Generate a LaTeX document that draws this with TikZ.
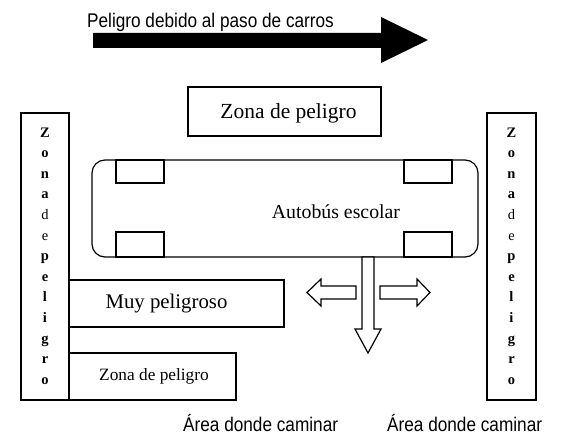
\documentclass[tikz,border=0pt]{standalone}
\usepackage{fontspec}
\setmainfont{Liberation Serif}
\setsansfont{Liberation Sans}
\newcommand{\vzonatext}{\textbf{Z}\\\textbf{o}\\\textbf{n}\\\textbf{a}\\d\\e\\\textbf{p}\\\textbf{e}\\\textbf{l}\\\textbf{i}\\\textbf{g}\\\textbf{r}\\\textbf{o}}
\newcommand{\tallsans}[1]{\scalebox{1}[1.15]{#1}}
\begin{document}
\begin{tikzpicture}[x=1pt,y=-1pt,
  box/.style={draw, line width=1.2pt, inner sep=0pt},
  solid arrow/.style={fill=black},
  hollow arrow/.style={draw, fill=white, line width=1.2pt, line join=miter},
  sanslabel/.style={font=\sffamily\fontsize{17.2}{20}\selectfont, inner sep=0pt},
  seriflabel/.style={inner sep=0pt},
  vertlabel/.style={font=\fontsize{14.5}{20.6}\selectfont, align=center, inner sep=0pt, anchor=north}]
\useasboundingbox (0,0) rectangle (564,436);

% big traffic arrow
\fill[solid arrow] (93,33) -- (381,33) -- (381,17) -- (428,40) -- (381,63) -- (381,48) -- (93,48) -- cycle;
\node[sanslabel, anchor=base west] (traffic) at (87,27.5) {\tallsans{Peligro debido al paso de carros}};

% top danger zone
\node[box, minimum width=193, minimum height=49] (ztop) at (284.5,111.5) {};
\node[seriflabel, font=\fontsize{21.5}{24}\selectfont] (ztoptext) at (288.5,113) {Zona de peligro};

% side danger zones
\node[box, minimum width=48, minimum height=287] (zleft) at (45,256.5) {};
\node[vertlabel] (zlefttext) at (45,127.5) {\vzonatext};
\node[box, minimum width=49, minimum height=287] (zright) at (511.5,256.5) {};
\node[vertlabel] (zrighttext) at (511.5,127.5) {\vzonatext};

% bus
\node[box, rounded corners=13pt, minimum width=386, minimum height=97] (bus) at (285,208.5) {};
\draw[line width=1.2pt] (116,160) rectangle (164,183);
\draw[line width=1.2pt] (116,232) rectangle (164,257);
\draw[line width=1.2pt] (404,160) rectangle (452,183);
\draw[line width=1.2pt] (404,232) rectangle (452,257);
\node[seriflabel, font=\fontsize{19.8}{22}\selectfont] (bustext) at (336,211.5) {Autobús escolar};

% left boxes
\node[box, minimum width=215, minimum height=47] (muy) at (176.5,303.5) {};
\node[seriflabel, font=\fontsize{20.8}{24}\selectfont] (muytext) at (166.5,303.5) {Muy peligroso};
\node[box, minimum width=167, minimum height=47] (zbot) at (152.5,376.5) {};
\node[seriflabel, font=\fontsize{17.3}{20}\selectfont] (zbottext) at (154,376) {Zona de peligro};

% door arrows
\draw[hollow arrow] (362,257) -- (374,257) -- (374,329) -- (381,329) -- (368,353) -- (355,329) -- (362,329) -- cycle;
\draw[hollow arrow] (356,286) -- (321,286) -- (321,279) -- (307,292.5) -- (321,306) -- (321,299) -- (356,299) -- cycle;
\draw[hollow arrow] (380,286) -- (417,286) -- (417,279) -- (430,292.5) -- (417,306) -- (417,299) -- (380,299) -- cycle;

% walking areas
\node[sanslabel, anchor=base west] (walk1) at (183,431.5) {\tallsans{Área donde caminar}};
\node[sanslabel, anchor=base west] (walk2) at (387,431.5) {\tallsans{Área donde caminar}};
\end{tikzpicture}
\end{document}
